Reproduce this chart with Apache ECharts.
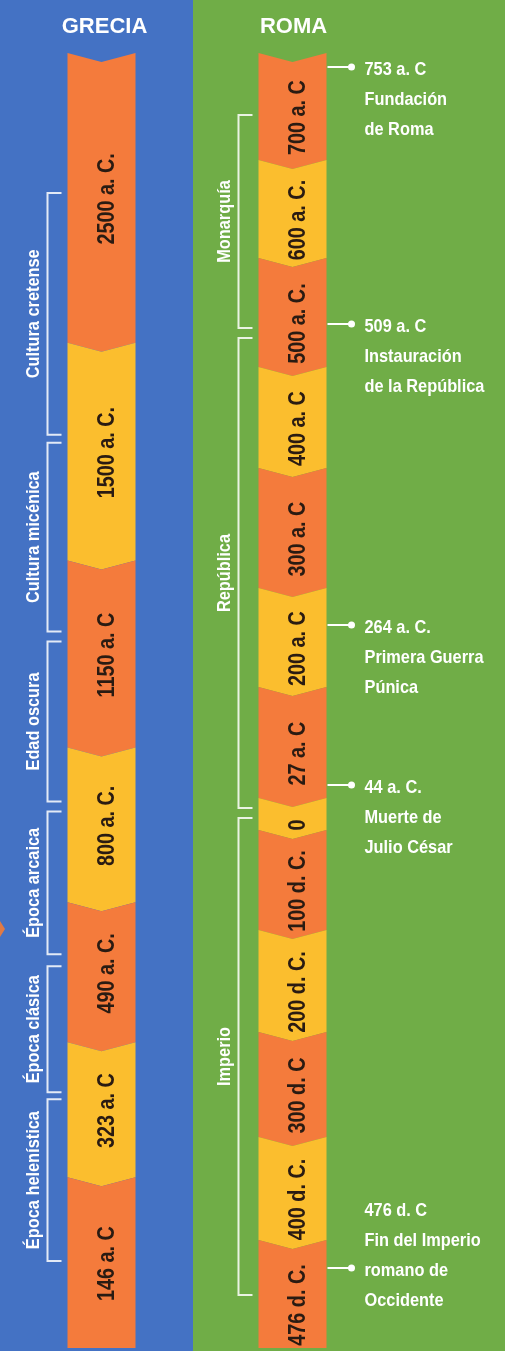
<!DOCTYPE html>
<html>
<head>
<meta charset="utf-8">
<script src="https://cdn.jsdelivr.net/npm/echarts@6.0.0/dist/echarts.min.js"></script>
<style>
  html, body { margin: 0; padding: 0; background: #70AD47; }
  #chart { width: 505px; height: 1351px; }
</style>
</head>
<body>
<div id="chart"></div>
<script>
// ---------- DATA ----------
const columns = ['GRECIA', 'ROMA'];

const greeceLabels = ['2500 a. C.', '1500 a. C.', '1150 a. C', '800 a. C.', '490 a. C.', '323 a. C', '146 a. C'];
const greeceSpans  = [290, 218, 187, 155, 140, 135, 171];

const greecePeriods     = ['Cultura cretense', 'Cultura micénica', 'Edad oscura', 'Época arcaica', 'Época clásica', 'Época helenística'];
const greecePeriodStart = [140, 390, 589, 759, 914, 1047];
const greecePeriodEnd   = [382, 579, 749, 902, 1040, 1209];

const romeLabels = ['700 a. C', '600 a. C.', '500 a. C.', '400 a. C', '300 a. C', '200 a. C', '27 a. C', '0', '100 d. C.', '200 d. C.', '300 d. C', '400 d. C.', '476 d. C.'];
const romeSpans  = [107, 98, 109, 101, 120, 99, 111, 32, 100, 102, 105, 103, 108];

const romePeriods     = ['Monarquía', 'República', 'Imperio'];
const romePeriodStart = [62, 285, 765];
const romePeriodEnd   = [275, 755, 1242];

const romeEventDates = ['753 a. C', '509 a. C', '264 a. C.', '44 a. C.', '476 d. C'];
const romeEventTexts = ['Fundación\nde Roma', 'Instauración\nde la República', 'Primera Guerra\nPúnica', 'Muerte de\nJulio César', 'Fin del Imperio\nromano de\nOccidente'];
const romeEventPos   = [14, 271, 572, 732, 1215];
const romeEventArrowLine = [0, 0, 0, 0, 2];

// ---------- STYLE ----------
const BLUE = '#4472C4', GREEN = '#70AD47', ORANGE = '#F47B3C', YELLOW = '#FBBE2E';
const FONT = '"Liberation Sans", Arial, sans-serif';
const BAR_W = 68, NOTCH = 9, LH = 30;

function cumulative(spans) {
  const out = []; let acc = 0;
  spans.forEach((s, i) => { out.push([0, acc, acc + s, i]); acc += s; });
  return out;
}
const greeceData = cumulative(greeceSpans);
const romeData = cumulative(romeSpans);
const greeceTotal = greeceSpans.reduce((a, b) => a + b, 0);
const romeTotal = romeSpans.reduce((a, b) => a + b, 0);

function barRenderer(labels, shift) {
  return function (params, api) {
    const i = api.value(3);
    const a = api.coord([0, api.value(1)]);
    const b = api.coord([0, api.value(2)]);
    const cx = a[0], x0 = cx - BAR_W / 2, x1 = cx + BAR_W / 2;
    const y0 = a[1], y1 = b[1];
    const last = i === labels.length - 1;
    const pts = [[x0, y0], [cx, y0 + NOTCH], [x1, y0], [x1, y1], [cx, last ? y1 : y1 + NOTCH], [x0, y1]];
    return {
      type: 'group',
      children: [
        { type: 'polygon', shape: { points: pts }, style: { fill: i % 2 ? YELLOW : ORANGE } },
        { type: 'text', x: cx + 6, y: (y0 + y1) / 2 + shift, rotation: Math.PI / 2, scaleX: 0.86, z2: 10,
          style: { text: labels[i], fill: '#2A1B12', fontFamily: FONT, fontWeight: 'bold', fontSize: 23, align: 'center', verticalAlign: 'middle' } }
      ]
    };
  };
}

function bracketRenderer(names) {
  return function (params, api) {
    const i = api.value(3);
    const a = api.coord([0, api.value(1)]);
    const b = api.coord([0, api.value(2)]);
    const barLeft = a[0] - BAR_W / 2;
    const xv = barLeft - 20, xt = barLeft - 6;
    return {
      type: 'group',
      children: [
        { type: 'polyline', shape: { points: [[xt, a[1]], [xv, a[1]], [xv, b[1]], [xt, b[1]]] },
          style: { stroke: 'rgba(255,255,255,0.85)', lineWidth: 2, fill: null } },
        { type: 'text', x: a[0] - 68, y: (a[1] + b[1]) / 2, rotation: Math.PI / 2, scaleX: 0.86,
          style: { text: names[i], fill: '#FFFFFF', fontFamily: FONT, fontWeight: 'bold', fontSize: 19, align: 'center', verticalAlign: 'middle' } }
      ]
    };
  };
}

function eventRenderer(params, api) {
  const i = api.value(2);
  const p = api.coord([0, api.value(1)]);
  const barRight = p[0] + BAR_W / 2;
  const y = p[1];
  const tx = barRight + 38;
  const ty = y - romeEventArrowLine[i] * LH - LH / 2 + 3;
  return {
    type: 'group',
    children: [
      { type: 'line', shape: { x1: barRight + 1, y1: y, x2: barRight + 24, y2: y }, style: { stroke: '#FFFFFF', lineWidth: 2 } },
      { type: 'circle', shape: { cx: barRight + 25, cy: y, r: 3.5 }, style: { fill: '#FFFFFF' } },
      { type: 'text', x: tx, y: ty, scaleX: 0.86,
        style: { text: romeEventDates[i] + '\n' + romeEventTexts[i], fill: '#FFFFFF', fontFamily: FONT, fontWeight: 'bold', fontSize: 19, lineHeight: LH, align: 'left', verticalAlign: 'top' } }
    ]
  };
}

const chart = echarts.init(document.getElementById('chart'), null, { renderer: 'canvas' });
chart.setOption({
  animation: false,
  backgroundColor: GREEN,
  graphic: [
    { type: 'rect', left: 0, top: 0, shape: { width: 193, height: 1351 }, style: { fill: BLUE }, z: -10 },
    { type: 'polygon', shape: { points: [[0, 921], [5, 929], [0, 937]] }, style: { fill: '#E07A45' }, z: -5 }
  ],
  grid: [
    { left: 10, width: 183, top: 53, bottom: 3 },
    { left: 193, width: 199, top: 53, bottom: 3 }
  ],
  xAxis: columns.map((c, k) => ({
    type: 'category', gridIndex: k, data: [c], position: 'top',
    axisLine: { show: false }, axisTick: { show: false }, splitLine: { show: false },
    axisLabel: { color: '#FFFFFF', fontSize: 22, fontWeight: 'bold', fontFamily: FONT, margin: 15, padding: [0, 0, 0, k === 0 ? 6 : 2] }
  })),
  yAxis: [
    { type: 'value', gridIndex: 0, min: 0, max: greeceTotal, inverse: true, show: false },
    { type: 'value', gridIndex: 1, min: 0, max: romeTotal, inverse: true, show: false }
  ],
  series: [
    { type: 'custom', name: 'Grecia', xAxisIndex: 0, yAxisIndex: 0, data: greeceData,
      encode: { x: 0, y: [1, 2] }, renderItem: barRenderer(greeceLabels, 1) },
    { type: 'custom', name: 'Grecia periodos', xAxisIndex: 0, yAxisIndex: 0,
      data: greecePeriods.map((n, i) => [0, greecePeriodStart[i], greecePeriodEnd[i], i]),
      encode: { x: 0, y: [1, 2] }, renderItem: bracketRenderer(greecePeriods) },
    { type: 'custom', name: 'Roma', xAxisIndex: 1, yAxisIndex: 1, data: romeData,
      encode: { x: 0, y: [1, 2] }, renderItem: barRenderer(romeLabels, 11) },
    { type: 'custom', name: 'Roma periodos', xAxisIndex: 1, yAxisIndex: 1,
      data: romePeriods.map((n, i) => [0, romePeriodStart[i], romePeriodEnd[i], i]),
      encode: { x: 0, y: [1, 2] }, renderItem: bracketRenderer(romePeriods) },
    { type: 'custom', name: 'Roma eventos', xAxisIndex: 1, yAxisIndex: 1,
      data: romeEventPos.map((p, i) => [0, p, i]),
      encode: { x: 0, y: 1 }, renderItem: eventRenderer }
  ]
});
</script>
</body>
</html>
